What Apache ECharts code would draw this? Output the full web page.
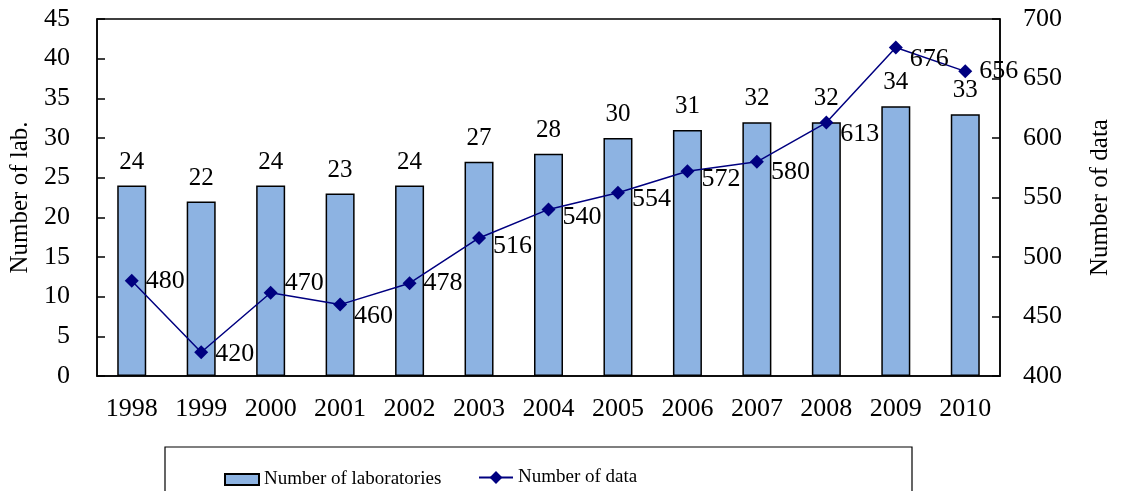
<!DOCTYPE html>
<html><head><meta charset="utf-8">
<script src="https://cdn.jsdelivr.net/npm/echarts@6/dist/echarts.min.js"></script>
<style>html,body{margin:0;padding:0;background:#fff}#c{width:1121px;height:491px}</style>
</head><body><div id="c"></div>
<script>
const years = ['1998','1999','2000','2001','2002','2003','2004','2005','2006','2007','2008','2009','2010'];
const labCounts = [24,22,24,23,24,27,28,30,31,32,32,34,33];
const dataCounts = [480,420,470,460,478,516,540,554,572,580,613,676,656];
const labOffsets = [0,2,-10,12,0,8,8,6,8,10,12,12,0];

const F = 'Liberation Serif, Times New Roman, serif';
const chart = echarts.init(document.getElementById('c'));
chart.setOption({
  animation:false,
  textStyle:{fontFamily:F},
  grid:{left:97,right:111,top:19,bottom:115,show:true,borderColor:'#000',borderWidth:1.5,backgroundColor:'transparent'},
  legend:[
    {left:224, top:470, padding:0, itemWidth:34, itemHeight:11, itemGap:4,
     textStyle:{fontFamily:F,fontSize:19,color:'#000'},
     data:[{name:'Number of laboratories',icon:'rect'}]},
    {left:478, top:468, padding:0, itemWidth:34, itemHeight:16, itemGap:4,
     textStyle:{fontFamily:F,fontSize:19,color:'#000'},
     data:[{name:'Number of data'}]}
  ],
  graphic:[{type:'rect',shape:{x:165,y:447,width:747,height:60},style:{fill:'none',stroke:'#000',lineWidth:1.2}}],
  xAxis:{type:'category',data:years,
    axisLine:{lineStyle:{color:'#000',width:1.5}},
    axisTick:{inside:true,length:8,lineStyle:{color:'#000',width:1.5}},
    axisLabel:{color:'#000',fontSize:26,margin:20,fontFamily:F}},
  yAxis:[
    {type:'value',min:0,max:45,interval:5,name:'Number of lab.',nameLocation:'middle',nameGap:62,
     nameTextStyle:{fontSize:25,color:'#000',fontFamily:F},
     axisLine:{show:true,lineStyle:{color:'#000',width:1.5}},
     axisTick:{show:true,inside:true,length:8,lineStyle:{color:'#000',width:1.5}},
     axisLabel:{color:'#000',fontSize:26,margin:27,fontFamily:F},splitLine:{show:false}},
    {type:'value',min:400,max:700,interval:50,name:'Number of data',nameLocation:'middle',nameGap:88,nameRotate:90,
     nameTextStyle:{fontSize:25,color:'#000',fontFamily:F},
     axisLine:{show:true,lineStyle:{color:'#000',width:1.5}},
     axisTick:{show:true,inside:true,length:8,lineStyle:{color:'#000',width:1.5}},
     axisLabel:{color:'#000',fontSize:26,margin:23,fontFamily:F},splitLine:{show:false}}
  ],
  series:[
    {name:'Number of laboratories',type:'bar',data:labCounts,barWidth:29,
     itemStyle:{color:'#8DB3E2',borderColor:'#000',borderWidth:1.5},
     label:{show:true,position:'top',distance:11,color:'#000',fontSize:25,fontFamily:F}},
    {name:'Number of data',type:'line',yAxisIndex:1,
     data:dataCounts.map((v,i)=>({value:v,label:{offset:[0,labOffsets[i]]}})),
     symbol:'diamond',symbolSize:14,
     lineStyle:{color:'#000080',width:1.5},itemStyle:{color:'#000080'},
     label:{show:true,position:'right',distance:7,color:'#000',fontSize:26,fontFamily:F}}
  ]
});
</script></body></html>
